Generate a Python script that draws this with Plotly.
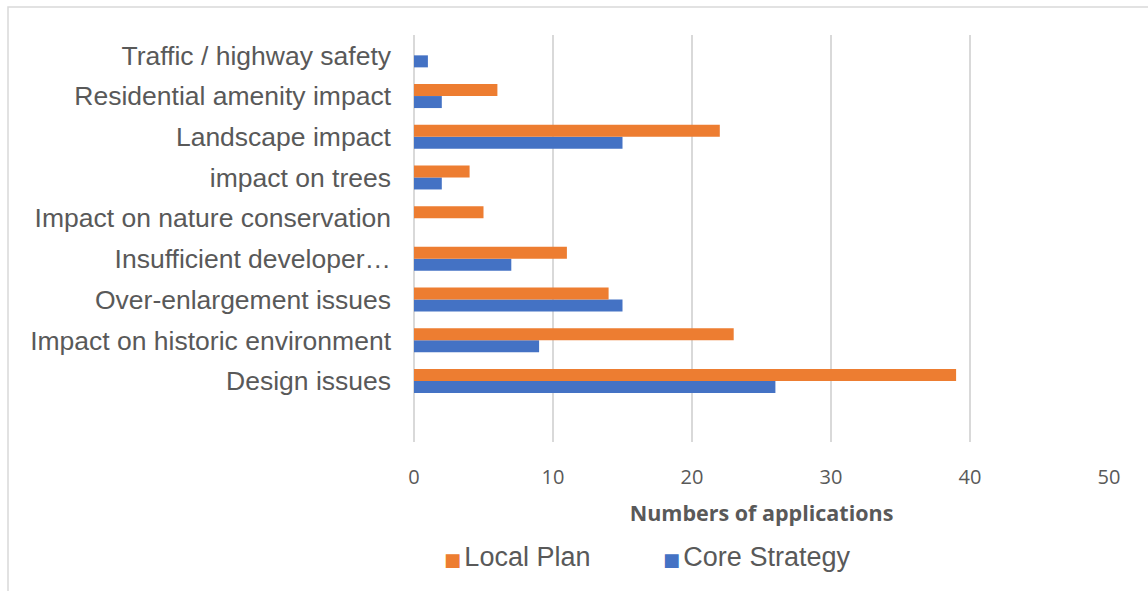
import plotly.graph_objects as go

categories = [
    "Design issues",
    "Impact on historic environment",
    "Over-enlargement issues",
    "Insufficient developer…",
    "Impact on nature conservation",
    "impact on trees",
    "Landscape impact",
    "Residential amenity impact",
    "Traffic / highway safety",
]
local_plan = [39, 23, 14, 11, 5, 4, 22, 6, 0]
core_strategy = [26, 9, 15, 7, 0, 2, 15, 2, 1]
x_ticks = [0, 10, 20, 30, 40, 50]

ORANGE = "#ED7D31"
BLUE = "#4472C4"
GRID = "#D9D9D9"
TEXT = "#595959"
ARIAL = "Arial, Liberation Sans, sans-serif"


def swatch(color, label):
    return (f'<span style="color:{color};font-size:18px;font-family:DejaVu Sans">■</span>'
            f'<span style="font-size:12px"> </span>{label}')


fig = go.Figure()
fig.add_trace(go.Bar(
    y=categories, x=core_strategy, name="Core Strategy", orientation="h",
    marker=dict(color=BLUE, line=dict(width=0)), legendgroup="cs", showlegend=False,
))
fig.add_trace(go.Bar(
    y=categories, x=local_plan, name="Local Plan", orientation="h",
    marker=dict(color=ORANGE, line=dict(width=0)), legendgroup="lp", showlegend=False,
))
# legend entries (swatch drawn as a coloured square glyph next to the text)
fig.add_trace(go.Scatter(
    x=[None], y=[None], mode="markers", name=swatch(ORANGE, "Local Plan"), legendgroup="lp",
    marker=dict(symbol="square", size=1, color="rgba(0,0,0,0)"), legend="legend",
))
fig.add_trace(go.Scatter(
    x=[None], y=[None], mode="markers", name=swatch(BLUE, "Core Strategy"), legendgroup="cs",
    marker=dict(symbol="square", size=1, color="rgba(0,0,0,0)"), legend="legend2",
))

legend_common = dict(
    orientation="h", xanchor="left", y=-0.281, yanchor="middle",
    font=dict(family=ARIAL, size=27, color=TEXT), bgcolor="rgba(0,0,0,0)",
)

fig.update_layout(
    width=1148, height=591,
    margin=dict(l=414, r=39, t=35, b=149, autoexpand=False),
    paper_bgcolor="white", plot_bgcolor="white",
    barmode="group", bargap=0.41, bargroupgap=0,
    showlegend=True,
    legend=dict(x=(404 - 414) / 695, **legend_common),
    legend2=dict(x=(623 - 414) / 695, **legend_common),
    xaxis=dict(
        range=[0, 50], tickvals=x_ticks, showgrid=True, gridcolor=GRID, gridwidth=1.5,
        zeroline=True, zerolinecolor=GRID, zerolinewidth=1.5, showline=False,
        ticks="", ticklabelstandoff=21,
        tickfont=dict(family="Open Sans, sans-serif", size=20, color=TEXT),
        title=dict(text="<b>Numbers of applications</b>", standoff=16,
                   font=dict(family="Open Sans, sans-serif", size=21.5, color=TEXT)),
        fixedrange=True,
    ),
    yaxis=dict(
        type="category", categoryorder="array", categoryarray=categories,
        range=[-1.5, 8.5], showgrid=False, showline=False, zeroline=False,
        ticks="", ticklabelstandoff=22,
        tickfont=dict(family=ARIAL, size=26.5, color=TEXT),
        fixedrange=True,
    ),
    shapes=[dict(
        type="rect", xref="paper", yref="paper",
        x0=(8 - 414) / 695, x1=1.2, y0=-0.6, y1=(442 - 7) / 407,
        line=dict(color=GRID, width=1.5), fillcolor="rgba(0,0,0,0)", layer="below",
    )],
)

fig.write_html("out.html")
